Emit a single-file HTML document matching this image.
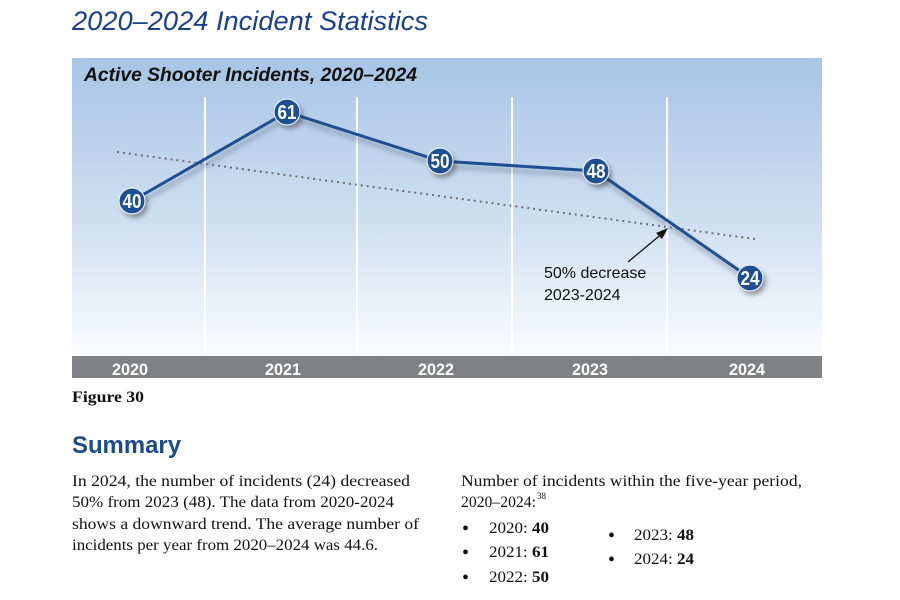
<!DOCTYPE html>
<html><head><meta charset="utf-8"><style>html,body{margin:0;padding:0;background:#fff;width:900px;height:600px;overflow:hidden}</style></head>
<body>
<svg width="900" height="600" viewBox="0 0 900 600" xmlns="http://www.w3.org/2000/svg">
<defs>
<linearGradient id="bg" x1="0" y1="0" x2="0" y2="1">
<stop offset="0" stop-color="#a8c5e6"/>
<stop offset="0.55" stop-color="#cfdff1"/>
<stop offset="1" stop-color="#fbfcfe"/>
</linearGradient>
<filter id="sh" x="-50%" y="-50%" width="200%" height="200%"><feGaussianBlur stdDeviation="2.5"/></filter>
</defs>
<text x="72" y="30" font-family="Liberation Sans, sans-serif" font-style="italic" font-size="27" fill="#1b3f8c" textLength="356" lengthAdjust="spacingAndGlyphs">2020–2024 Incident Statistics</text>
<rect x="72" y="58" width="750" height="298" fill="url(#bg)"/>
<text x="84" y="81" font-family="Liberation Sans, sans-serif" font-style="italic" font-weight="bold" font-size="19" fill="#111" textLength="333" lengthAdjust="spacingAndGlyphs">Active Shooter Incidents, 2020–2024</text>
<g stroke="#fff" stroke-width="2">
<line x1="205" y1="97" x2="205" y2="356"/><line x1="357" y1="97" x2="357" y2="356"/>
<line x1="512" y1="97" x2="512" y2="356"/><line x1="667" y1="97" x2="667" y2="356"/>
</g>
<rect x="72" y="356" width="750" height="22" fill="#808185"/>
<g font-family="Liberation Sans, sans-serif" font-weight="bold" font-size="17" fill="#fff" text-anchor="middle">
<text x="130" y="375" textLength="36" lengthAdjust="spacingAndGlyphs">2020</text>
<text x="283" y="375" textLength="36" lengthAdjust="spacingAndGlyphs">2021</text>
<text x="436" y="375" textLength="36" lengthAdjust="spacingAndGlyphs">2022</text>
<text x="590" y="375" textLength="36" lengthAdjust="spacingAndGlyphs">2023</text>
<text x="747" y="375" textLength="36" lengthAdjust="spacingAndGlyphs">2024</text>
</g>
<line x1="117" y1="152" x2="755" y2="239" stroke="#6d6f75" stroke-width="2" stroke-dasharray="2,4"/>
<polyline points="134,206 289,117 442,166 598,176 752,283" fill="none" stroke="#7d8aa0" stroke-width="5" opacity="0.5" filter="url(#sh)"/>
<polyline points="132,201 287,112 440,161 596,171 750,278" fill="none" stroke="#1d4f91" stroke-width="3"/>
<line x1="628" y1="262" x2="664" y2="232" stroke="#111" stroke-width="1.3"/>
<polygon points="668,228 656,233 662,239" fill="#111"/>
<g font-family="Liberation Sans, sans-serif" font-size="16" fill="#111">
<text x="544" y="278">50% decrease</text>
<text x="544" y="300">2023-2024</text>
</g>
<g>
<circle cx="135" cy="205" r="13" fill="#333" opacity="0.45" filter="url(#sh)"/>
<circle cx="290" cy="116" r="13" fill="#333" opacity="0.45" filter="url(#sh)"/>
<circle cx="443" cy="165" r="13" fill="#333" opacity="0.45" filter="url(#sh)"/>
<circle cx="599" cy="175" r="13" fill="#333" opacity="0.45" filter="url(#sh)"/>
<circle cx="753" cy="282" r="13" fill="#333" opacity="0.45" filter="url(#sh)"/>
</g>
<g fill="#1d4f91" stroke="#e8eef8" stroke-width="1.2">
<circle cx="132" cy="201" r="13"/><circle cx="287" cy="112" r="13"/>
<circle cx="440" cy="161" r="13"/><circle cx="596" cy="171" r="13"/>
<circle cx="750" cy="278" r="13"/>
</g>
<g font-family="Liberation Sans, sans-serif" font-weight="bold" font-size="20" fill="#fff" text-anchor="middle">
<text x="132" y="208" textLength="19" lengthAdjust="spacingAndGlyphs">40</text>
<text x="287" y="119" textLength="19" lengthAdjust="spacingAndGlyphs">61</text>
<text x="440" y="168" textLength="19" lengthAdjust="spacingAndGlyphs">50</text>
<text x="596" y="178" textLength="19" lengthAdjust="spacingAndGlyphs">48</text>
<text x="750" y="285" textLength="19" lengthAdjust="spacingAndGlyphs">24</text>
</g>
<text x="72" y="402" font-family="Liberation Serif, serif" font-weight="bold" font-size="16" fill="#111" textLength="72" lengthAdjust="spacingAndGlyphs">Figure 30</text>
<text x="72" y="453" font-family="Liberation Sans, sans-serif" font-weight="bold" font-size="24" fill="#1d4a8c" textLength="109" lengthAdjust="spacingAndGlyphs">Summary</text>
<g font-family="Liberation Serif, serif" font-size="16" fill="#111">
<text x="72" y="486" textLength="338" lengthAdjust="spacingAndGlyphs">In 2024, the number of incidents (24) decreased</text>
<text x="72" y="507" textLength="322" lengthAdjust="spacingAndGlyphs">50% from 2023 (48). The data from 2020-2024</text>
<text x="72" y="529" textLength="347" lengthAdjust="spacingAndGlyphs">shows a downward trend. The average number of</text>
<text x="72" y="550" textLength="306" lengthAdjust="spacingAndGlyphs">incidents per year from 2020–2024 was 44.6.</text>
<text x="461" y="486" textLength="341" lengthAdjust="spacingAndGlyphs">Number of incidents within the five-year period,</text>
<text x="461" y="507" textLength="75" lengthAdjust="spacingAndGlyphs">2020–2024:</text>
<text x="537" y="499" font-size="9">38</text>
<g font-size="20"><text x="462" y="535">•</text><text x="462" y="559">•</text><text x="462" y="584">•</text><text x="608" y="542">•</text><text x="608" y="566">•</text></g>
<text x="489" y="533" textLength="60" lengthAdjust="spacingAndGlyphs">2020: <tspan font-weight="bold">40</tspan></text>
<text x="489" y="557" textLength="60" lengthAdjust="spacingAndGlyphs">2021: <tspan font-weight="bold">61</tspan></text>
<text x="489" y="582" textLength="60" lengthAdjust="spacingAndGlyphs">2022: <tspan font-weight="bold">50</tspan></text>
<text x="634" y="540" textLength="60" lengthAdjust="spacingAndGlyphs">2023: <tspan font-weight="bold">48</tspan></text>
<text x="634" y="564" textLength="60" lengthAdjust="spacingAndGlyphs">2024: <tspan font-weight="bold">24</tspan></text>
</g>
</svg>
</body></html>
